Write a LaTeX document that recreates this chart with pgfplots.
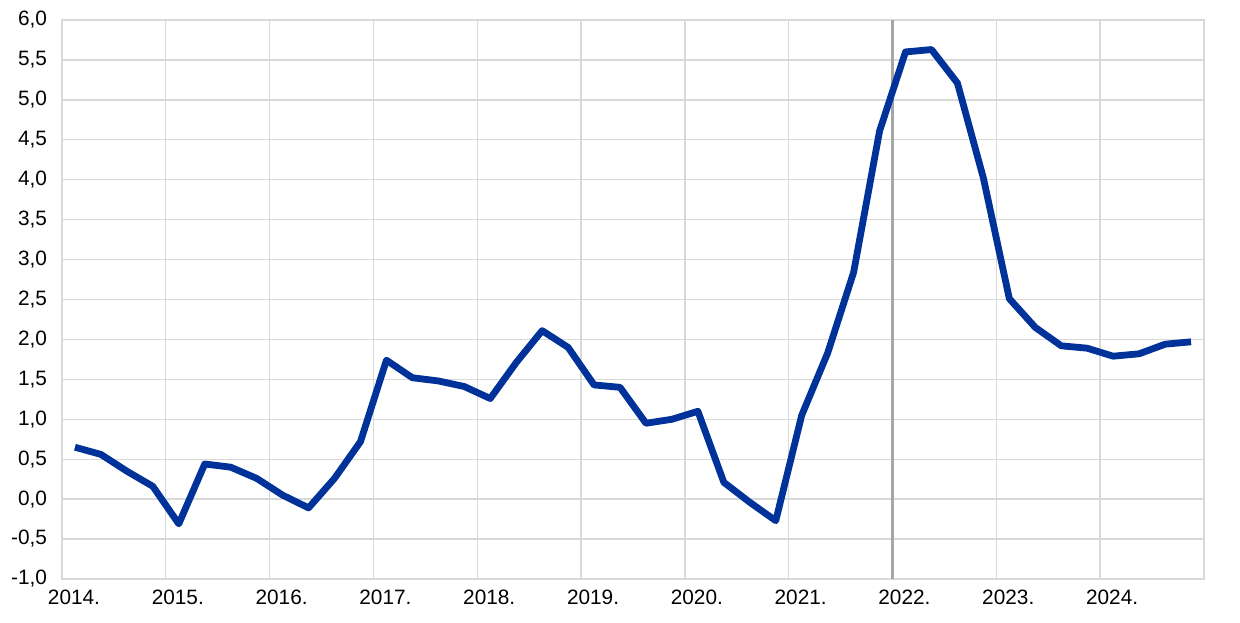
\documentclass[border=0pt]{standalone}
\usepackage{fontspec}
\setmainfont{Liberation Sans}
\usepackage{pgfplots}
\pgfplotsset{compat=1.18}
\definecolor{ecbblue}{HTML}{003299}
\definecolor{gridgrey}{HTML}{D9D9D9}
\begin{document}
\begin{tikzpicture}
\begin{axis}[
  name=ax,
  width=571pt, height=279.5pt, scale only axis,
  xmin=2014, xmax=2025, ymin=-1, ymax=6,
  xtick={2014,...,2025},
  xticklabels={2014.,2015.,2016.,2017.,2018.,2019.,2020.,2021.,2022.,2023.,2024.,},
  ytick={-1,-0.5,...,6},
  major tick length=0pt,
  grid=major,
  grid style={draw=gridgrey, line width=0.7pt},
  axis line style={draw=gridgrey, line width=0.7pt},
  tick label style={font=\fontsize{10.4}{12}\selectfont, text=black},
  xticklabel style={xshift=6pt, yshift=-2pt},
  yticklabel style={xshift=-4pt},
  /pgf/number format/assume math mode=true,
  /pgf/number format/use comma,
  /pgf/number format/fixed,
  /pgf/number format/fixed zerofill,
  /pgf/number format/precision=1,
  clip=false,
]
\addplot[draw=black!35, line width=1.5pt, forget plot] coordinates {(2022,-1) (2022,6)};
\addplot[color=ecbblue, line width=3.4pt, line join=round, mark=none] coordinates {
(2014.125,0.65) (2014.375,0.56) (2014.625,0.35) (2014.875,0.16)
(2015.125,-0.31) (2015.375,0.44) (2015.625,0.40) (2015.875,0.26)
(2016.125,0.05) (2016.375,-0.11) (2016.625,0.26) (2016.875,0.72)
(2017.125,1.74) (2017.375,1.52) (2017.625,1.48) (2017.875,1.41)
(2018.125,1.26) (2018.375,1.71) (2018.625,2.11) (2018.875,1.90)
(2019.125,1.43) (2019.375,1.40) (2019.625,0.95) (2019.875,1.00)
(2020.125,1.10) (2020.375,0.21) (2020.625,-0.04) (2020.875,-0.27)
(2021.125,1.05) (2021.375,1.83) (2021.625,2.84) (2021.875,4.61)
(2022.125,5.60) (2022.375,5.63) (2022.625,5.21) (2022.875,4.02)
(2023.125,2.51) (2023.375,2.15) (2023.625,1.92) (2023.875,1.89)
(2024.125,1.79) (2024.375,1.82) (2024.625,1.94) (2024.875,1.97)
};
\end{axis}
\pgfresetboundingbox
\path ([shift={(-31pt,-22pt)}]ax.south west) rectangle ([shift={(18pt,10pt)}]ax.north east);
\end{tikzpicture}
\end{document}
